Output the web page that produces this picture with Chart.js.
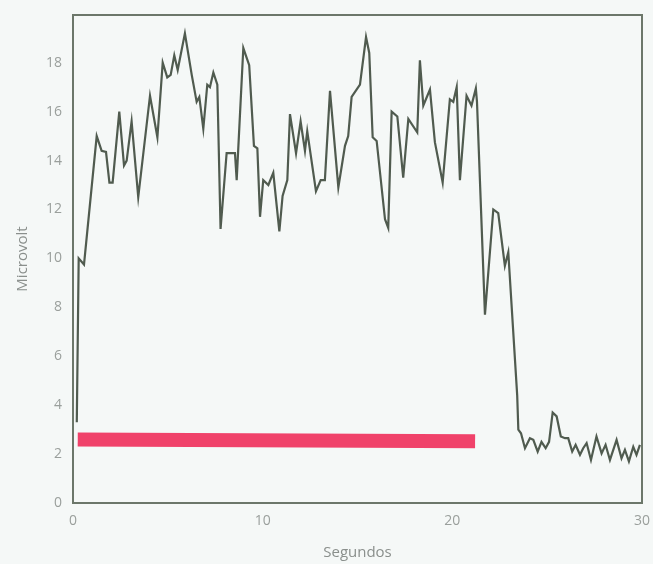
<!DOCTYPE html>
<html>
<head>
<meta charset="utf-8">
<script src="https://cdn.jsdelivr.net/npm/chart.js@4.4.0/dist/chart.umd.min.js"></script>
<style>
  html, body { margin: 0; padding: 0; background: #f5f8f7; }
  #wrap { width: 653px; height: 564px; }
</style>
</head>
<body>
<div id="wrap"><canvas id="emgChart" width="653" height="564"></canvas></div>
<script>
// Signal trace (seconds, microvolt)
const signalSeconds = [
  0.2, 0.3, 0.58, 1.25, 1.51, 1.74, 1.92, 2.09, 2.44, 2.69, 2.83, 3.09, 3.44, 4.06, 4.45, 4.73,
  4.97, 5.15, 5.34, 5.52, 5.9, 6.26, 6.52, 6.66, 6.87, 7.08, 7.22, 7.40, 7.61, 7.78, 8.10, 8.54,
  8.63, 8.98, 9.29, 9.54, 9.72, 9.86, 10.03, 10.30, 10.56, 10.88, 11.05, 11.30, 11.44, 11.76,
  12.0, 12.23, 12.35, 12.81, 13.06, 13.28, 13.55, 13.99, 14.34, 14.51, 14.69, 15.13, 15.45,
  15.62, 15.80, 16.01, 16.45, 16.62, 16.80, 17.10, 17.41, 17.68, 18.15, 18.29, 18.47, 18.82,
  19.08, 19.49, 19.87, 20.05, 20.23, 20.40, 20.75, 21.01, 21.24, 21.30, 21.72, 22.16, 22.42,
  22.77, 22.95, 23.42, 23.48, 23.62, 23.83, 24.09, 24.27, 24.5, 24.7, 24.92, 25.1, 25.29, 25.5,
  25.72, 25.94, 26.11, 26.32, 26.5, 26.73, 26.9, 27.08, 27.31, 27.6, 27.87, 28.08, 28.31, 28.66,
  28.92, 29.1, 29.31, 29.54, 29.71, 29.89
];
const signalMicrovolt = [
  3.3, 10.0, 9.75, 15.0, 14.4, 14.35, 13.1, 13.1, 16.0, 13.8, 14.0, 15.6, 12.5, 16.65, 14.95, 18.0,
  17.4, 17.5, 18.3, 17.7, 19.2, 17.5, 16.4, 16.6, 15.3, 17.1, 17.0, 17.6, 17.1, 11.2, 14.3, 14.3,
  13.2, 18.6, 17.9, 14.6, 14.5, 11.7, 13.2, 13.0, 13.5, 11.1, 12.55, 13.2, 15.9, 14.3,
  15.6, 14.4, 15.2, 12.75, 13.2, 13.2, 16.85, 12.9, 14.6, 15.0, 16.6, 17.1, 19.05,
  18.4, 14.95, 14.8, 11.6, 11.25, 16.0, 15.8, 13.3, 15.7, 15.15, 18.1, 16.25, 16.9,
  14.75, 13.1, 16.5, 16.4, 17.0, 13.2, 16.65, 16.25, 16.95, 16.4, 7.7, 12.0, 11.85,
  9.7, 10.25, 4.4, 3.0, 2.85, 2.24, 2.65, 2.58, 2.1, 2.5, 2.24, 2.5, 3.7, 3.54,
  2.72, 2.65, 2.65, 2.1, 2.38, 1.97, 2.24, 2.45, 1.76, 2.72, 2.03, 2.38, 1.76, 2.58,
  1.83, 2.17, 1.7, 2.3, 1.97, 2.38
];

// Red reference bar
const barSeconds = [0.25, 21.2];
const barMicrovolt = [2.6, 2.52];

// Axis ticks
const xTicks = [0, 10, 20, 30];
const yTicks = [0, 2, 4, 6, 8, 10, 12, 14, 16, 18];

const toPoints = (xs, ys) => xs.map((x, i) => ({ x: x, y: ys[i] }));

// Draws the box round the plot area
const frameBox = {
  id: 'frameBox',
  afterDraw(chart) {
    const { ctx, chartArea } = chart;
    ctx.save();
    ctx.strokeStyle = '#6c776a';
    ctx.lineWidth = 2;
    ctx.strokeRect(chartArea.left, chartArea.top, chartArea.right - chartArea.left, chartArea.bottom - chartArea.top);
    ctx.restore();
  }
};

const tickFont = { family: 'Open Sans', size: 14 };
const titleFont = { family: 'Open Sans', size: 15 };

document.addEventListener('DOMContentLoaded', function() {
  const ctx = document.getElementById('emgChart').getContext('2d');
  new Chart(ctx, {
    type: 'line',
    data: {
      datasets: [
        {
          label: 'Sinal',
          data: toPoints(signalSeconds, signalMicrovolt),
          borderColor: '#505b4f',
          borderWidth: 2.2,
          pointRadius: 0,
          tension: 0,
          fill: false
        },
        {
          label: 'Referência',
          data: toPoints(barSeconds, barMicrovolt),
          borderColor: '#f0426a',
          borderWidth: 14,
          borderCapStyle: 'butt',
          pointRadius: 0,
          fill: false
        }
      ]
    },
    options: {
      responsive: false,
      animation: false,
      layout: { padding: { top: 15, right: 11, left: 0, bottom: 0 } },
      plugins: {
        legend: { display: false },
        tooltip: { enabled: false }
      },
      scales: {
        x: {
          type: 'linear',
          min: 0,
          max: 30,
          grid: { display: false, drawTicks: false },
          border: { display: false },
          afterBuildTicks: axis => { axis.ticks = xTicks.map(v => ({ value: v })); },
          afterFit: axis => {
            axis.height = 61;
            axis.paddingLeft = 0;
            axis.paddingRight = 0;
          },
          ticks: { color: '#9a9f9c', font: tickFont, padding: 10 },
          title: { display: true, text: 'Segundos', color: '#8a8f8c', font: titleFont, padding: { top: 9, bottom: 2 } }
        },
        y: {
          min: 0,
          max: 19.95,
          grid: { display: false, drawTicks: false },
          border: { display: false },
          afterBuildTicks: axis => { axis.ticks = yTicks.map(v => ({ value: v })); },
          afterFit: axis => {
            axis.width = 73;
            axis.paddingTop = 0;
            axis.paddingBottom = 0;
          },
          ticks: { color: '#9a9f9c', font: tickFont, padding: 11 },
          title: { display: true, text: 'Microvolt', color: '#8a8f8c', font: titleFont, padding: { top: 14, bottom: 4 } }
        }
      }
    },
    plugins: [frameBox]
  });
});
</script>
</body>
</html>
